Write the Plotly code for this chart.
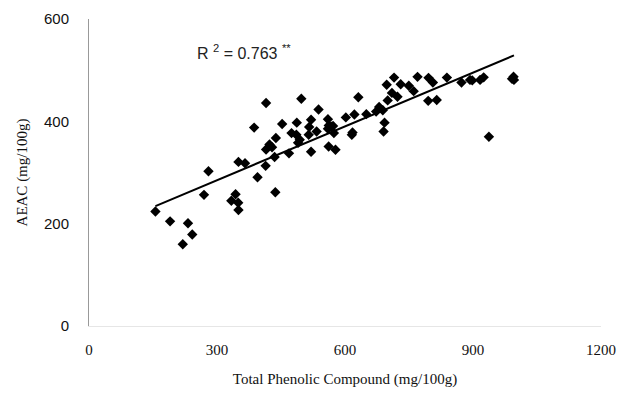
import numpy as np
import plotly.graph_objects as go

# Total phenolic compound (mg/100g)
tpc = [155.7, 190, 232, 242, 219.8, 280, 269.5, 343.5, 333.6, 349.7,
       350.3, 350.3, 365.7, 395, 415, 497.6, 387, 452.7, 487, 538,
       520.5, 560, 602, 622, 631.3, 516, 533.5, 474.7, 486, 515,
       560, 568, 574, 617.6, 616, 438, 423, 415, 429, 490,
       494, 468.7, 435, 520.5, 561.7, 577.7, 436.7, 650, 697.7, 715,
       730.5, 749.5, 761, 770, 795.7, 806, 838.8, 873, 893, 898.3,
       916.6, 925, 995, 996, 991.5, 710, 723, 700, 680, 688.6,
       673, 795, 815, 692.7, 690.4, 937.3, 414, 562, 572]
# AEAC (mg/100g)
aeac = [223.7, 204.5, 200.7, 178.8, 159.7, 302.3, 256.3, 257.4, 244.8, 241,
        226.8, 320.7, 318.2, 290.8, 435.7, 444, 387.8, 394.9, 397.4, 423,
        403, 404, 407.7, 413.5, 447.2, 389, 380, 377, 373.8, 373.8,
        385.3, 389.7, 377, 378.2, 373.8, 367.5, 354.6, 345, 349.4, 357.9,
        364.2, 337.4, 330.3, 340.6, 350.8, 344.5, 261.3, 414, 471.5, 485.5,
        472.5, 469.6, 459, 486.9, 485, 476, 485.5, 476, 481, 480,
        481, 486, 487, 481, 483, 455.6, 448, 440.9, 428, 421.7,
        419, 440, 441.8, 397.4, 380, 370, 313, 392, 391]

x_ticks = [0, 300, 600, 900, 1200]
y_ticks = [0, 200, 400, 600]
r2_text = "R <sup>2</sup> = 0.763 <sup>**</sup>"

x = np.array(tpc)
y = np.array(aeac)
slope, intercept = np.polyfit(x, y, 1)
fit_x = np.array([x.min(), x.max()])
fit_y = slope * fit_x + intercept

fig = go.Figure()
fig.add_trace(go.Scatter(
    x=tpc, y=aeac, mode="markers",
    marker=dict(symbol="diamond", size=8, color="black"),
    showlegend=False, hoverinfo="skip"))
fig.add_trace(go.Scatter(
    x=fit_x, y=fit_y, mode="lines",
    line=dict(color="black", width=2),
    showlegend=False, hoverinfo="skip"))

fig.add_annotation(x=248, y=536, xref="x", yref="y", text=r2_text,
                   showarrow=False, xanchor="left", yanchor="middle",
                   font=dict(family="Liberation Sans, Arial", size=16, color="#222"))

fig.update_layout(
    width=642, height=396,
    margin=dict(l=81, r=49, t=11, b=78),
    plot_bgcolor="white", paper_bgcolor="white",
)
fig.update_xaxes(
    range=[0, 1200], tickvals=x_ticks, ticktext=[str(v) for v in x_ticks],
    showgrid=False, zeroline=False, automargin=False,
    showline=True, linecolor="#e6e6e6", linewidth=1,
    ticks="", ticklabelstandoff=10,
    tickfont=dict(family="Liberation Serif, Times New Roman", size=15, color="#111"),
    title=dict(text="Total Phenolic Compound (mg/100g)", standoff=16,
               font=dict(family="Liberation Serif, Times New Roman", size=15, color="#111")),
)
fig.update_yaxes(
    range=[0, 600], tickvals=y_ticks, ticktext=[str(v) for v in y_ticks],
    showgrid=False, zeroline=False, automargin=False,
    showline=True, linecolor="#999999", linewidth=1,
    ticks="", ticklabelstandoff=16,
    tickfont=dict(family="Liberation Sans, Arial", size=15, color="#111"),
    title=dict(text="AEAC (mg/100g)", standoff=12,
               font=dict(family="Liberation Serif, Times New Roman", size=15, color="#111")),
)

fig.write_html("out.html")
